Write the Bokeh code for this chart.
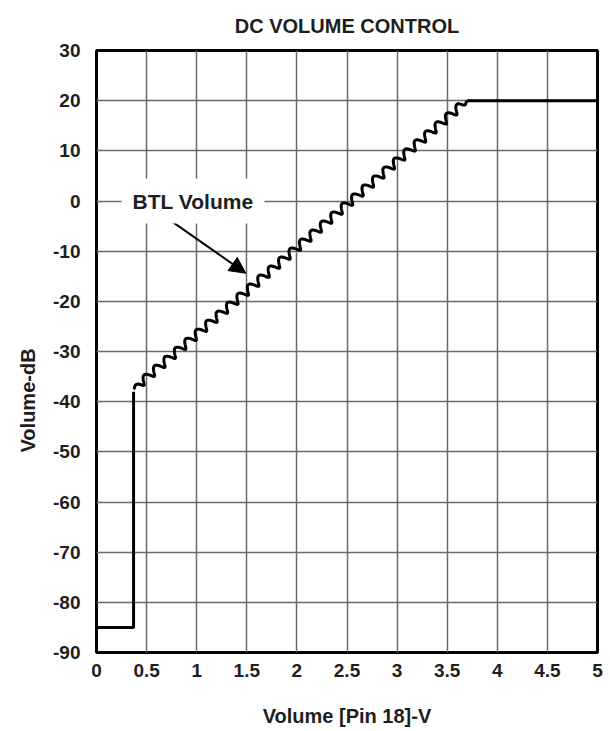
import numpy as np
from bokeh.plotting import figure
from bokeh.models import FixedTicker, Label, Arrow, NormalHead, Title
from bokeh.embed import file_html
from bokeh.resources import INLINE

# ---- data ----
volume_v = [0.0, 0.37, 0.37]          # mute region and jump
volume_db = [-85.0, -85.0, -38.0]
ramp_v = [0.37, 3.70]                 # stepped (rippled) ramp endpoints
ramp_db = [-37.5, 20.0]
flat_v = [3.70, 5.0]
flat_db = [20.0, 20.0]
n_steps = 32                          # visible ripples (volume steps) on the ramp
x_ticks = [0, 0.5, 1, 1.5, 2, 2.5, 3, 3.5, 4, 4.5, 5]
x_tick_labels = ["0", "0.5", "1", "1.5", "2", "2.5", "3", "3.5", "4", "4.5", "5"]
y_ticks = [-90, -80, -70, -60, -50, -40, -30, -20, -10, 0, 10, 20, 30]
y_tick_labels = ["-90", "-80", "-70", "-60", "-50", "-40", "-30", "-20", "-10", "0", "10", "20", "30"]

FONT = "Liberation Sans"
TXT = "#1e1e1e"

FRAME_W, FRAME_H = 501, 602
p = figure(width=96 + FRAME_W + 8, height=50 + FRAME_H + 79,
           x_range=(0, 5), y_range=(-90, 30),
           output_backend="svg", toolbar_location=None,
           min_border_left=96, min_border_right=8, min_border_top=50,
           min_border_bottom=79)

p.title.text = "DC VOLUME CONTROL"
p.title.align = "center"
p.title.vertical_align = "top"
p.title.text_font = FONT
p.title.text_font_size = "20px"
p.title.text_font_style = "bold"
p.title.text_color = TXT
p.title.standoff = 23

p.outline_line_color = "black"
p.outline_line_width = 3
p.outline_line_alpha = 1

for ax in (p.xaxis[0], p.yaxis[0]):
    ax.axis_line_color = None
    ax.major_tick_line_color = None
    ax.minor_tick_line_color = None
    ax.major_label_text_font = FONT
    ax.major_label_text_font_size = "19px"
    ax.major_label_text_font_style = "bold"
    ax.major_label_text_color = TXT

p.xaxis.ticker = FixedTicker(ticks=x_ticks)
p.xaxis.major_label_overrides = {t: l for t, l in zip(x_ticks, x_tick_labels)}
p.yaxis.ticker = FixedTicker(ticks=y_ticks)
p.yaxis.major_label_overrides = {t: l for t, l in zip(y_ticks, y_tick_labels)}
p.xaxis.major_label_standoff = 5
p.yaxis.major_label_standoff = 10

p.xaxis.axis_label = "Volume [Pin 18]-V"
p.xaxis.axis_label_text_font = FONT
p.xaxis.axis_label_text_font_size = "20px"
p.xaxis.axis_label_text_font_style = "bold"
p.xaxis.axis_label_text_color = TXT
p.xaxis.axis_label_standoff = 25

p.xgrid.grid_line_color = "#6a6a6a"
p.ygrid.grid_line_color = "#6a6a6a"
p.xgrid.grid_line_width = 1.5
p.ygrid.grid_line_width = 1.5

# y axis title as a side title (offset downward like the reference)
p.add_layout(Title(text="Volume-dB", align="left", offset=200, text_font=FONT,
                   text_font_size="20px", text_font_style="bold",
                   text_color=TXT, standoff=24), "left")

# mute segment, jump and the top plateau
p.line(volume_v, volume_db, line_color="black", line_width=3)
p.line(flat_v, flat_db, line_color="black", line_width=3)

# rippled ramp (each ripple = one volume step)
px_v = FRAME_W / 5.0
px_db = FRAME_H / 120.0
t = np.linspace(0, 1, n_steps * 24 + 1)
dxp = (ramp_v[1] - ramp_v[0]) * px_v
dyp = (ramp_db[1] - ramp_db[0]) * px_db
L = np.hypot(dxp, dyp)
ux, uy = dxp / L, dyp / L
nx, ny = -uy, ux
ph = 2 * np.pi * n_steps * t
env = np.clip(np.minimum(t, 1 - t) * 50, 0, 1)
amp_n = 4.0 * np.sin(ph) * env
amp_a = -0.8 * np.cos(ph) * env
xs = ramp_v[0] + t * (ramp_v[1] - ramp_v[0]) + (amp_n * nx + amp_a * ux) / px_v
ys = ramp_db[0] + t * (ramp_db[1] - ramp_db[0]) + (amp_n * ny + amp_a * uy) / px_db
p.line(xs, ys, line_color="black", line_width=3)

# annotation
p.add_layout(Arrow(end=NormalHead(size=16, fill_color="black", line_color="black"),
                   x_start=0.74, y_start=-3.9, x_end=1.49, y_end=-14.4,
                   line_color="black", line_width=2))
p.add_layout(Label(x=0.25, y=0, text="BTL Volume", text_font=FONT,
                   text_font_size="21px", text_font_style="bold",
                   text_color=TXT, text_baseline="middle",
                   background_fill_color="white", background_fill_alpha=1,
                   padding=11))

open("out.html", "w").write(file_html(p, INLINE))
